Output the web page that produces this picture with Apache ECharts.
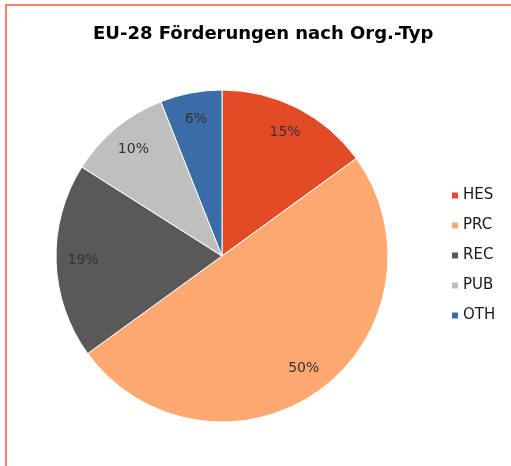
<!DOCTYPE html>
<html>
<head>
<meta charset="utf-8">
<script src="https://cdn.jsdelivr.net/npm/echarts@6/dist/echarts.min.js"></script>
<style>
  html, body { margin: 0; padding: 0; background: #fff; }
  #frame { position: absolute; left: 5px; top: 4px; width: 520px; height: 480px;
           border-left: 2px solid #F2846F; border-top: 2px solid #F2846F; }
  #pie1 { position: absolute; left: 0; top: 0; width: 511px; height: 466px; }
</style>
</head>
<body>
<div id="frame"></div>
<div id="pie1"></div>
<script>
// Daten
const categories = ['HES', 'PRC', 'REC', 'PUB', 'OTH'];
const shares = [15, 50, 19, 10, 6];
const colors = ['#E34A26', '#FFA870', '#595959', '#BFBFBF', '#3A6DA6'];

const myChart = echarts.init(document.getElementById('pie1'));

const data = categories.map(function (name, i) {
  return { name: name, value: shares[i] };
});

const font = 'DejaVu Sans, Liberation Sans, Arial';

const option = {
  animation: false,
  color: colors,
  title: {
    text: 'EU-28 Förderungen nach Org.-Typ',
    left: 88,
    top: 20,
    textStyle: {
      fontFamily: font,
      fontSize: 18,
      fontWeight: 'bold',
      color: '#000'
    }
  },
  legend: {
    orient: 'vertical',
    left: 450,
    top: 188,
    padding: 0,
    itemWidth: 8,
    itemHeight: 8,
    itemGap: 15,
    icon: 'rect',
    data: categories,
    textStyle: {
      fontFamily: font,
      fontSize: 15,
      color: '#1a1a1a',
      padding: [0, 0, 0, -1]
    }
  },
  series: [{
      // sichtbare Torte
      type: 'pie',
      center: [222, 256],
      radius: 166,
      startAngle: 90,
      clockwise: true,
      label: { show: false },
      labelLine: { show: false },
      itemStyle: { borderColor: '#fff', borderWidth: 1 },
      data: data
    },
    {
      // transparente Ebene nur für die Beschriftung
      type: 'pie',
      center: [222, 256],
      radius: [106, 166],
      startAngle: 90,
      clockwise: true,
      silent: true,
      legendHoverLink: false,
      itemStyle: { color: 'rgba(0,0,0,0)' },
      label: {
        show: true,
        position: 'inside',
        formatter: '{c}%',
        fontFamily: font,
        fontSize: 14,
        color: '#333'
      },
      labelLine: { show: false },
      data: data
    }
  ]
};
myChart.setOption(option);
</script>
</body>
</html>
